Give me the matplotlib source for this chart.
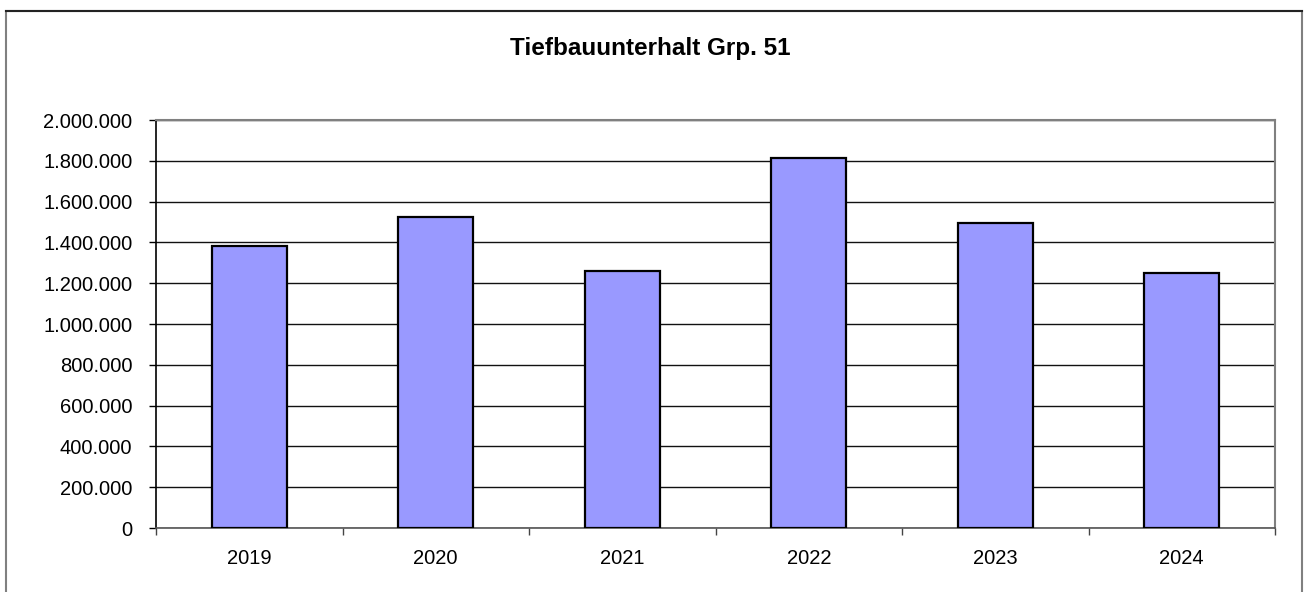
import matplotlib
matplotlib.use("Agg")
import matplotlib.pyplot as plt
from matplotlib.patches import Rectangle
from matplotlib.ticker import FuncFormatter, MultipleLocator

years = ["2019", "2020", "2021", "2022", "2023", "2024"]
values = [1384000, 1524000, 1258000, 1812000, 1493000, 1248000]
title = "Tiefbauunterhalt Grp. 51"

plt.rcParams['font.family'] = ['Liberation Sans', 'DejaVu Sans']

W, H = 1304, 592
fig = plt.figure(figsize=(W / 100, H / 100), dpi=100)

# outer frame
fig.patches.append(Rectangle((6 / W, -0.05), (1302 - 6) / W, (H - 11) / H + 0.05,
                             transform=fig.transFigure, fill=False,
                             edgecolor="#808080", linewidth=1.5))
fig.lines.append(plt.Line2D([6 / W, 1302 / W], [(H - 11) / H] * 2,
                            transform=fig.transFigure, color="#222222", linewidth=1.5))

ax = fig.add_axes([156 / W, (H - 528) / H, (1275 - 156) / W, (528 - 120) / H])
x = list(range(len(years)))
ax.bar(x, values, width=0.40, color="#9999FF", edgecolor="black", linewidth=1.6, zorder=3)

ax.set_xlim(-0.5, len(years) - 0.5)
ax.set_ylim(0, 2000000)
ax.yaxis.set_major_locator(MultipleLocator(200000))
ax.yaxis.set_major_formatter(FuncFormatter(lambda v, p: f"{int(v):,}".replace(",", ".")))
ax.grid(axis="y", color="#111111", linewidth=1.0, zorder=0)

ax.set_xticks(x)
ax.set_xticklabels(years)
ax.set_xticks([i - 0.5 for i in range(len(years) + 1)], minor=True)
ax.tick_params(axis="x", which="major", length=0, pad=15, labelsize=14.5)
ax.tick_params(axis="x", which="minor", length=5, width=1, color="#444444", direction="out")
ax.tick_params(axis="y", length=5, width=1, direction="out", pad=12, labelsize=14.5, color="black")

for s in ["top", "right"]:
    ax.spines[s].set_color("#808080")
    ax.spines[s].set_linewidth(1.5)
ax.spines["bottom"].set_color("#555555")
ax.spines["bottom"].set_linewidth(1.2)
ax.spines["left"].set_color("black")
ax.spines["left"].set_linewidth(1.2)

fig.text(650 / W, (H - 48) / H, title, ha="center", va="center",
         fontsize=17.5, fontweight="bold")

fig.savefig("out.png", dpi=100)
